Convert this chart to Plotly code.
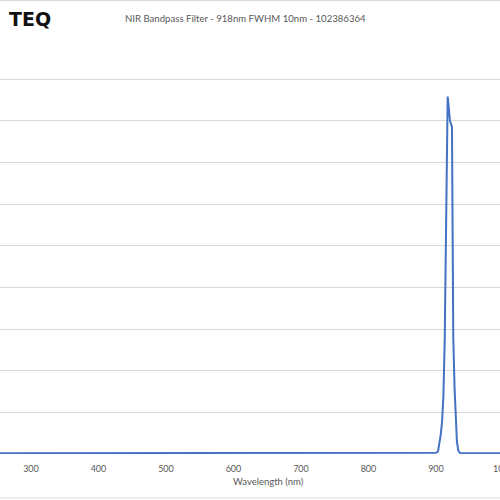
import plotly.graph_objects as go

# Wavelength (nm) and transmission (%)
wavelength = [250, 300, 400, 500, 600, 700, 800, 895, 900, 903, 905, 907, 909, 911, 913,
              914.5, 916, 917.3, 918.5, 920.7, 923.7, 925.6, 927.5, 929.6, 931, 933, 936, 950, 1000, 1010]
transmission = [0.2, 0.2, 0.2, 0.25, 0.2, 0.2, 0.2, 0.2, 0.3, 0.6, 2.5, 4.6, 7.7, 14, 28,
                 55, 80, 85.8, 84, 80, 78.5, 28, 16, 10, 3, 0.8, 0.2, 0.2, 0.2, 0.2]

x_ticks = [300, 400, 500, 600, 700, 800, 900, 1000]
y_grid = list(range(0, 101, 10))

title_text = "NIR Bandpass Filter - 918nm FWHM 10nm - 102386364"
x_title = "Wavelength (nm)"
logo_text = "TEQ"

W = 512
H = 500
T, B = 37, 46
plot_h = H - T - B
px_per_nm = 0.675
x0_nm = 254.1


def py(pix):
    return (H - B - pix) / plot_h


def px(pix):
    return pix / W


fig = go.Figure()
fig.add_trace(go.Scatter(x=wavelength, y=transmission, mode="lines",
                         line=dict(color="#4472C4", width=2), hoverinfo="skip",
                         showlegend=False))

fig.update_layout(
    width=W, height=H,
    margin=dict(l=0, r=0, t=T, b=B, autoexpand=False),
    paper_bgcolor="white", plot_bgcolor="white",
    font=dict(family="Lato, Liberation Sans, sans-serif", color="#595959"),
    xaxis=dict(range=[x0_nm, x0_nm + W / px_per_nm], tickvals=x_ticks, showgrid=False,
               zeroline=False, showline=False, ticks="outside", ticklen=6,
               tickcolor="rgba(0,0,0,0)", automargin=False, ticklabeloverflow="allow",
               tickfont=dict(size=9, color="#595959")),
    yaxis=dict(range=[0, 100.1], tickvals=y_grid, showticklabels=False, showgrid=True,
               gridcolor="#D9D9D9", gridwidth=1, zeroline=False, showline=False,
               automargin=False),
    annotations=[
        dict(text=title_text, x=px(245), y=py(18), xref="paper", yref="paper",
             showarrow=False, xanchor="center", yanchor="middle",
             font=dict(size=9.6, color="#595959")),
        dict(text=x_title, x=px(268), y=py(481), xref="paper", yref="paper",
             showarrow=False, xanchor="center", yanchor="middle",
             font=dict(size=9.5, color="#595959")),
        dict(text="<b>" + logo_text + "</b>", x=px(53), y=py(19), xref="paper", yref="paper",
             showarrow=False, xanchor="right", yanchor="middle",
             font=dict(size=19, color="#111111", family="DejaVu Sans")),
    ],
    shapes=[
        dict(type="line", xref="paper", yref="paper", x0=0, x1=1, y0=py(0.5), y1=py(0.5),
             line=dict(color="#D9D9D9", width=1)),
        dict(type="line", xref="paper", yref="paper", x0=0, x1=1, y0=py(498), y1=py(498),
             line=dict(color="#D9D9D9", width=1)),
    ],
)

fig.write_html("out.html", config={"displayModeBar": False},
               post_script="document.body.style.margin='0';document.body.style.overflow='hidden';")
